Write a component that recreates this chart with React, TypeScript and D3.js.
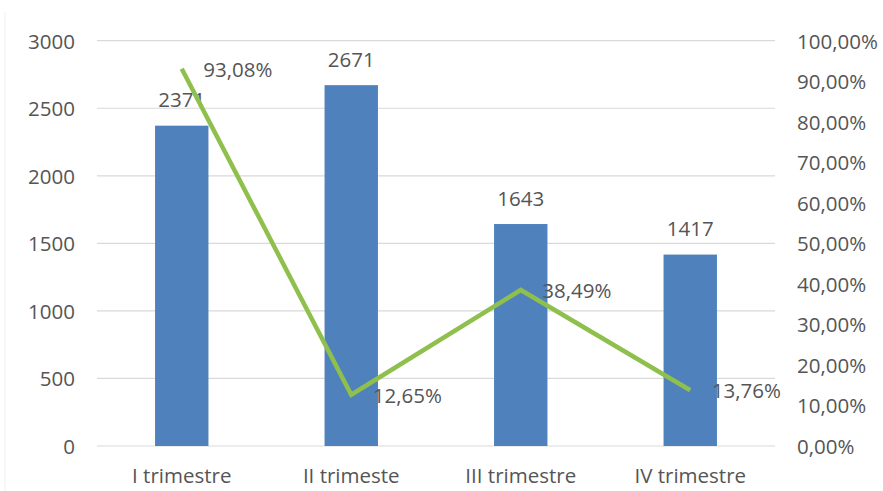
import React from "react";
import * as d3 from "d3";

const categories = ["I trimestre", "II trimeste", "III trimestre", "IV trimestre"];
const volumes = [2371, 2671, 1643, 1417];
const shares = [0.9308, 0.1265, 0.3849, 0.1376];
const leftTicks = [0, 500, 1000, 1500, 2000, 2500, 3000];
const rightTicks = [0, 0.1, 0.2, 0.3, 0.4, 0.5, 0.6, 0.7, 0.8, 0.9, 1.0];

const W = 883;
const H = 491;
const plot = { left: 97, right: 775, top: 40.7, bottom: 446 };
const FONT = "'Open Sans', 'DejaVu Sans', sans-serif";
const TEXT = "#555555";
const BAR = "#4F81BD";
const LINE = "#8FBF4C";
const GRID = "#D9D9D9";

const pct = (v: number) => (v * 100).toFixed(2).replace(".", ",") + "%";

export default function App() {
  const x = d3
    .scaleBand<string>()
    .domain(categories)
    .range([plot.left, plot.right])
    .paddingInner(0)
    .paddingOuter(0);
  const yL = d3.scaleLinear().domain([0, 3000]).range([plot.bottom, plot.top]);
  const yR = d3.scaleLinear().domain([0, 1]).range([plot.bottom, plot.top]);

  const barW = x.bandwidth() * 0.315;
  const cx = (c: string) => (x(c) as number) + x.bandwidth() / 2;

  const linePath = d3
    .line<number>()
    .x((_, i) => cx(categories[i]))
    .y((d) => yR(d))(shares) as string;

  return (
    <svg
      width={W}
      height={H}
      style={{ position: "absolute", left: 0, top: 0, display: "block", background: "#fff" }}
      fontFamily={FONT}
    >
      {/* faint chart-area edge on the left */}
      <line x1={5} x2={5} y1={12} y2={H} stroke="#EFEFEF" strokeWidth={1} />

      {/* horizontal gridlines on the left scale */}
      {leftTicks.map((t) => (
        <line
          key={"g" + t}
          x1={plot.left}
          x2={plot.right}
          y1={yL(t)}
          y2={yL(t)}
          stroke={GRID}
          strokeWidth={1.2}
        />
      ))}

      {/* left axis labels */}
      {leftTicks.map((t) => (
        <text
          key={"l" + t}
          x={75}
          y={yL(t)}
          textAnchor="end"
          dominantBaseline="central"
          fontSize={20.5}
          fill={TEXT}
        >
          {t}
        </text>
      ))}

      {/* right axis labels */}
      {rightTicks.map((t) => (
        <text
          key={"r" + t}
          x={797}
          y={yR(t)}
          textAnchor="start"
          dominantBaseline="central"
          fontSize={20.5}
          fill={TEXT}
        >
          {pct(t)}
        </text>
      ))}

      {/* bars */}
      {volumes.map((v, i) => (
        <rect
          key={"b" + i}
          x={cx(categories[i]) - barW / 2}
          y={yL(v)}
          width={barW}
          height={yL(0) - yL(v)}
          fill={BAR}
        />
      ))}

      {/* bar value labels */}
      {volumes.map((v, i) => (
        <text
          key={"bv" + i}
          x={cx(categories[i])}
          y={yL(v) - 18.5}
          textAnchor="middle"
          fontSize={20.5}
          fill={TEXT}
        >
          {v}
        </text>
      ))}

      {/* share line */}
      <path
        d={linePath}
        fill="none"
        stroke={LINE}
        strokeWidth={4.5}
        strokeLinejoin="miter"
        strokeLinecap="butt"
      />

      {/* share labels */}
      {shares.map((s, i) => (
        <text
          key={"sv" + i}
          x={cx(categories[i]) + 21.5}
          y={yR(s)}
          textAnchor="start"
          dominantBaseline="central"
          fontSize={20.5}
          fill={TEXT}
        >
          {pct(s)}
        </text>
      ))}

      {/* category labels */}
      {categories.map((c) => (
        <text
          key={"c" + c}
          x={cx(c)}
          y={483.3}
          textAnchor="middle"
          fontSize={20.5}
          fill={TEXT}
        >
          {c}
        </text>
      ))}
    </svg>
  );
}
